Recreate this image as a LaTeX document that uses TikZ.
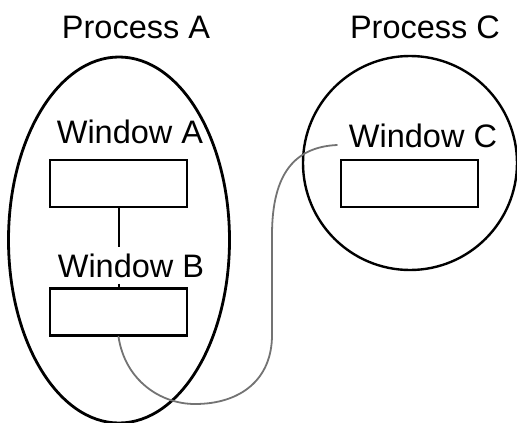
\documentclass[tikz,border=0pt]{standalone}
\usepackage{fontspec}
\setmainfont{Liberation Sans}
\usetikzlibrary{shapes.geometric}
\begin{document}
\begin{tikzpicture}[x=1pt,y=-1pt,
  lbl/.style={font=\fontsize{32.5}{39}\selectfont, inner sep=0pt, anchor=base},
  win/.style={draw, line width=2.4pt, minimum width=137pt, minimum height=47pt, inner sep=0pt},
  cable/.style={draw=black!55, line width=1.8pt, line cap=round}]
\useasboundingbox (0,0) rectangle (517,423);
% processes
\node[ellipse, draw, line width=2.8pt, minimum width=221pt, minimum height=366pt, inner sep=0pt] (pa) at (119,240) {};
\node[circle, draw, line width=2.4pt, minimum size=214pt, inner sep=0pt] (pc) at (410,163) {};
\node[lbl] (lpa) at (136,38) {Process A};
\node[lbl] (lpc) at (425,38) {Process C};
% windows
\node[lbl] (lwa) at (130,143) {Window A};
\node[win] (ra) at (118.5,183.5) {};
\node[lbl, inner sep=6pt] (lwb) at (131,277) {Window B};
\node[win] (rb) at (118.5,312) {};
\node[lbl] (lwc) at (423,147) {Window C};
\node[win] (rc) at (409.5,183.5) {};
% links
\draw[line width=2pt] (ra.south -| rb.north) -- (ra.south |- lwb.north);
\draw[line width=2pt] (rb.north |- lwb.south) -- (rb.north);
\coordinate (cend) at (337,145);
\path[cable] (rb.south) .. controls (125,380) and (160,404) .. (195,404)
  .. controls (240,404) and (272,380) .. (272,335)
  -- (272,235)
  .. controls (272,172) and (296,147) .. (cend);
\end{tikzpicture}
\end{document}
